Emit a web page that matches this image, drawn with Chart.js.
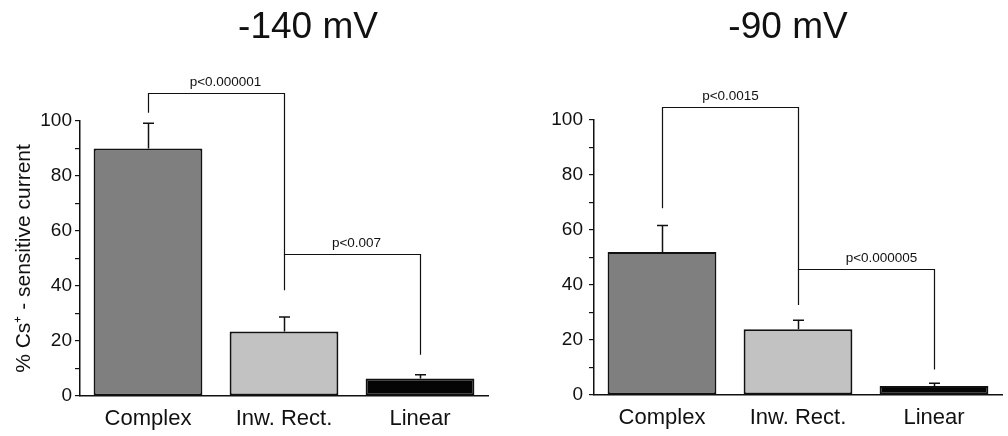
<!DOCTYPE html>
<html>
<head>
<meta charset="utf-8">
<script src="https://cdn.jsdelivr.net/npm/chart.js@4.4.1/dist/chart.umd.min.js"></script>
<style>
    html, body { margin: 0; padding: 0; background: #fff; }
    #wrap { position: relative; width: 1008px; height: 436px; overflow: hidden; }
    canvas { position: absolute; top: 0; }
    #c140 { left: 0; }
    #c90 { left: 504px; }
</style>
</head>
<body>
<div id="wrap">
    <canvas id="c140" width="504" height="436"></canvas>
    <canvas id="c90" width="504" height="436"></canvas>
</div>
<script>
// categories and values
const categories = ['Complex', 'Inw. Rect.', 'Linear'];

const mean140 = [90, 23.5, 6.4];
const sem140 = [9.2, 5.2, 1.3];
const mean90 = [52, 23.9, 3.3];
const sem90 = [9.6, 3.3, 1.0];

const yTicks = [0, 20, 40, 60, 80, 100];

// significance brackets: pair of bars, level of the bar, where each leg stops
const pLabels140 = ['p<0.000001', 'p<0.007'];
const pairs140 = [[0, 1], [1, 2]];
const levels140 = [110, 51.5];
const legEnds140 = [[103, 38.5], [51.5, 15]];

const pLabels90 = ['p<0.0015', 'p<0.000005'];
const pairs90 = [[0, 1], [1, 2]];
const levels90 = [104.8, 45.8];
const legEnds90 = [[67.9, 32.7], [45.8, 9.3]];

const FONT = '"Liberation Sans", Arial, Helvetica, sans-serif';
const INK = '#111';
const barColors = ['#7f7f7f', '#c2c2c2', '#050505'];

// draws the error bars (upper half only), the brackets and the panel title
const annotate = {
    id: 'annotate',
    afterDatasetsDraw(chart) {
        const opts = chart.options.plugins.annotate;
        const ctx = chart.ctx;
        const y = chart.scales.y;
        const bars = chart.getDatasetMeta(0).data;

        ctx.save();
        ctx.strokeStyle = INK;
        ctx.lineCap = 'butt';

        // error bars
        ctx.lineWidth = 1.5;
        opts.means.forEach((m, i) => {
            const x = Math.round(bars[i].x) + 0.5;
            const yTop = y.getPixelForValue(m + opts.sems[i]);
            ctx.beginPath();
            ctx.moveTo(x, y.getPixelForValue(m));
            ctx.lineTo(x, yTop);
            ctx.moveTo(x - 5.5, yTop);
            ctx.lineTo(x + 5.5, yTop);
            ctx.stroke();
        });

        // brackets
        ctx.lineWidth = 1.2;
        ctx.fillStyle = INK;
        ctx.font = '13.5px ' + FONT;
        ctx.textAlign = 'center';
        ctx.textBaseline = 'bottom';
        opts.pairs.forEach((pair, k) => {
            const x1 = Math.round(bars[pair[0]].x) + 0.5;
            const x2 = Math.round(bars[pair[1]].x) + 0.5;
            const yl = Math.round(y.getPixelForValue(opts.levels[k])) + 0.5;
            ctx.beginPath();
            ctx.moveTo(x1, y.getPixelForValue(opts.legEnds[k][0]));
            ctx.lineTo(x1, yl);
            ctx.lineTo(x2, yl);
            ctx.lineTo(x2, y.getPixelForValue(opts.legEnds[k][1]));
            ctx.stroke();
            ctx.fillText(opts.labels[k], (x1 + x2) / 2 + opts.labelShift[k], yl - 4);
        });

        // panel title
        ctx.font = '37px ' + FONT;
        ctx.textBaseline = 'alphabetic';
        ctx.fillText(opts.title, opts.titleX, 38);
        ctx.restore();
    }
};

function makePanel(canvasId, means, sems, extra) {
    const canvas = document.getElementById(canvasId);
    const ctx = canvas.getContext('2d');

    return new Chart(ctx, {
        type: 'bar',
        data: {
            labels: categories,
            datasets: [{
                data: means,
                backgroundColor: barColors,
                borderColor: INK,
                borderWidth: 2,
                borderSkipped: false,
                categoryPercentage: 1,
                barPercentage: 0.8
            }]
        },
        options: {
            responsive: false,
            animation: false,
            layout: { padding: extra.padding },
            plugins: {
                legend: { display: false },
                tooltip: { enabled: false },
                annotate: {
                    means: means,
                    sems: sems,
                    pairs: extra.pairs,
                    levels: extra.levels,
                    legEnds: extra.legEnds,
                    labels: extra.labels,
                    labelShift: extra.labelShift,
                    title: extra.title,
                    titleX: extra.titleX
                }
            },
            scales: {
                x: {
                    grid: { display: false, drawTicks: false },
                    border: { display: true, color: INK, width: 1.5 },
                    ticks: { color: INK, font: { family: FONT, size: 22 }, padding: 10, maxRotation: 0 },
                    afterFit: (scale) => { scale.height = extra.xHeight; }
                },
                y: {
                    min: 0,
                    max: 100,
                    grid: { drawOnChartArea: false, drawTicks: true, tickLength: 5, color: INK, lineWidth: 1.2 },
                    border: { display: true, color: INK, width: 1.5 },
                    ticks: {
                        stepSize: 10,
                        color: INK,
                        padding: extra.tickPad,
                        font: { family: FONT, size: 19 },
                        callback: (v) => yTicks.includes(v) ? v : ''
                    },
                    title: {
                        display: extra.yTitle !== '',
                        text: extra.yTitle,
                        color: INK,
                        font: { family: FONT, size: 21 },
                        padding: { top: 12, bottom: 0 }
                    },
                    afterFit: (scale) => { scale.width = extra.yWidth; }
                }
            }
        },
        plugins: [annotate]
    });
}

makePanel('c140', mean140, sem140, {
    padding: { top: 121, right: 16, bottom: 0, left: 0 },
    xHeight: 40,
    yWidth: 80,
    tickPad: 3,
    yTitle: '% Cs\u207A - sensitive current',
    pairs: pairs140,
    levels: levels140,
    legEnds: legEnds140,
    labels: pLabels140,
    labelShift: [9, 4],
    title: '-140 mV',
    titleX: 308
});

makePanel('c90', mean90, sem90, {
    padding: { top: 120, right: 6, bottom: 0, left: 0 },
    xHeight: 41,
    yWidth: 90,
    tickPad: 6,
    yTitle: '',
    pairs: pairs90,
    levels: levels90,
    legEnds: legEnds90,
    labels: pLabels90,
    labelShift: [0, 15],
    title: '-90 mV',
    titleX: 284
});
</script>
</body>
</html>
